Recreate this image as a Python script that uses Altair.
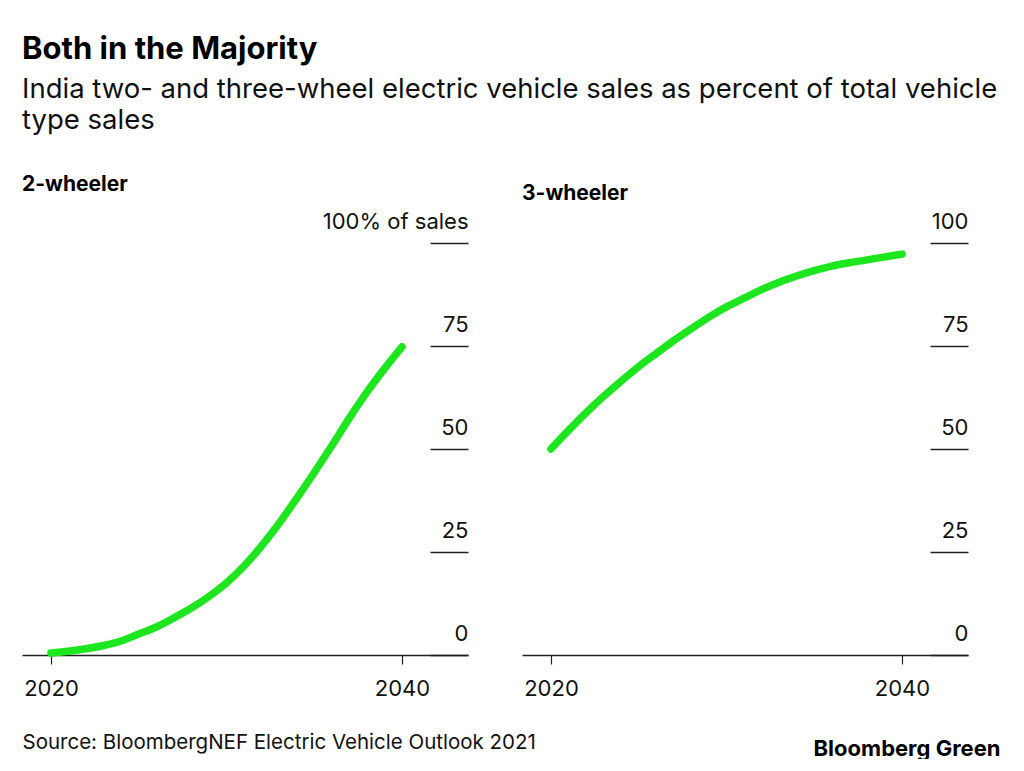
import altair as alt
import pandas as pd

years = list(range(2020, 2041))
two_wheeler = [0.5, 0.9, 1.5, 2.3, 3.4, 5.1, 6.8, 9.0, 11.4, 14.2, 17.5,
               21.6, 26.5, 32.0, 38.0, 44.3, 50.8, 57.5, 63.8, 69.5, 74.8]
three_wheeler = [50.0, 54.5, 58.8, 62.8, 66.5, 70.0, 73.2, 76.3, 79.2, 82.0, 84.5,
                 86.6, 88.7, 90.5, 92.0, 93.3, 94.4, 95.2, 95.9, 96.6, 97.3]
panel_titles = ["2-wheeler", "3-wheeler"]
y_ticks = [0, 25, 50, 75, 100]
x_ticks = [2020, 2040]

title_text = "Both in the Majority"
subtitle_lines = ["India two- and three-wheel electric vehicle sales as percent of total vehicle",
                  "type sales"]
source_text = "Source: BloombergNEF Electric Vehicle Outlook 2021"
brand_text = "Bloomberg Green"

FONT = "Inter"
GREEN = "#1ee61e"


def panel(values, title, title_offset, label_expr, xtitle, xtitle_kw):
    df = pd.DataFrame({"year": years, "share": values})
    return alt.Chart(df).mark_line(
        color=GREEN, strokeWidth=7.5, strokeCap="round", strokeJoin="round",
        interpolate="monotone"
    ).encode(
        x=alt.X("year:Q",
                scale=alt.Scale(domain=[2018.35, 2043.76], nice=False, zero=False),
                axis=alt.Axis(values=x_ticks, format="d", grid=False,
                              domainColor="#222", domainWidth=1.5,
                              tickColor="#222", tickWidth=1.2, tickSize=9,
                              labelFontSize=22, labelFont=FONT, labelColor="#111",
                              labelPadding=14, labelFlush=False,
                              title=xtitle, titleFont=FONT, **xtitle_kw)),
        y=alt.Y("share:Q",
                scale=alt.Scale(domain=[0, 100], nice=False),
                axis=alt.Axis(orient="right", values=y_ticks, grid=False,
                              domain=False, offset=-38, tickSize=38,
                              tickColor="#222", tickWidth=1.5,
                              labelAlign="right", labelBaseline="alphabetic",
                              labelPadding=0, labelOffset=-15,
                              labelFontSize=22, labelFont=FONT, labelColor="#111",
                              labelExpr=label_expr, labelOverlap=False,
                              title=None)),
    ).properties(
        width=446, height=412,
        title=alt.TitleParams(title, anchor="start", font=FONT, fontSize=21,
                              fontWeight="bold", color="#000", offset=title_offset),
    )


left = panel(two_wheeler, panel_titles[0], 15,
             "datum.value == 100 ? '100% of sales' : datum.label",
             source_text,
             dict(titleFontSize=20.5, titleFontWeight="normal", titleColor="#111",
                  titleAlign="left", titleX=0, titleY=93,
                  titleBaseline="alphabetic"))
right = panel(three_wheeler, panel_titles[1], 6, "datum.label",
              brand_text,
              dict(titleFontSize=22, titleFontWeight="bold", titleColor="#000",
                   titleAlign="right", titleX=478, titleY=100,
                   titleBaseline="alphabetic"))

chart = alt.hconcat(left, right, spacing=54, bounds="flush").properties(
    title=alt.TitleParams(
        title_text, subtitle=subtitle_lines, anchor="start", font=FONT,
        fontSize=31, fontWeight="bold", color="#000",
        subtitleFont=FONT, subtitleFontSize=27.5, subtitleColor="#111",
        subtitleLineHeight=31, subtitlePadding=10, offset=39),
    padding={"left": 14, "top": 25, "right": 10, "bottom": 0},
).configure_view(stroke=None)

chart.save("out.html", embed_options={"renderer": "svg", "actions": False})
